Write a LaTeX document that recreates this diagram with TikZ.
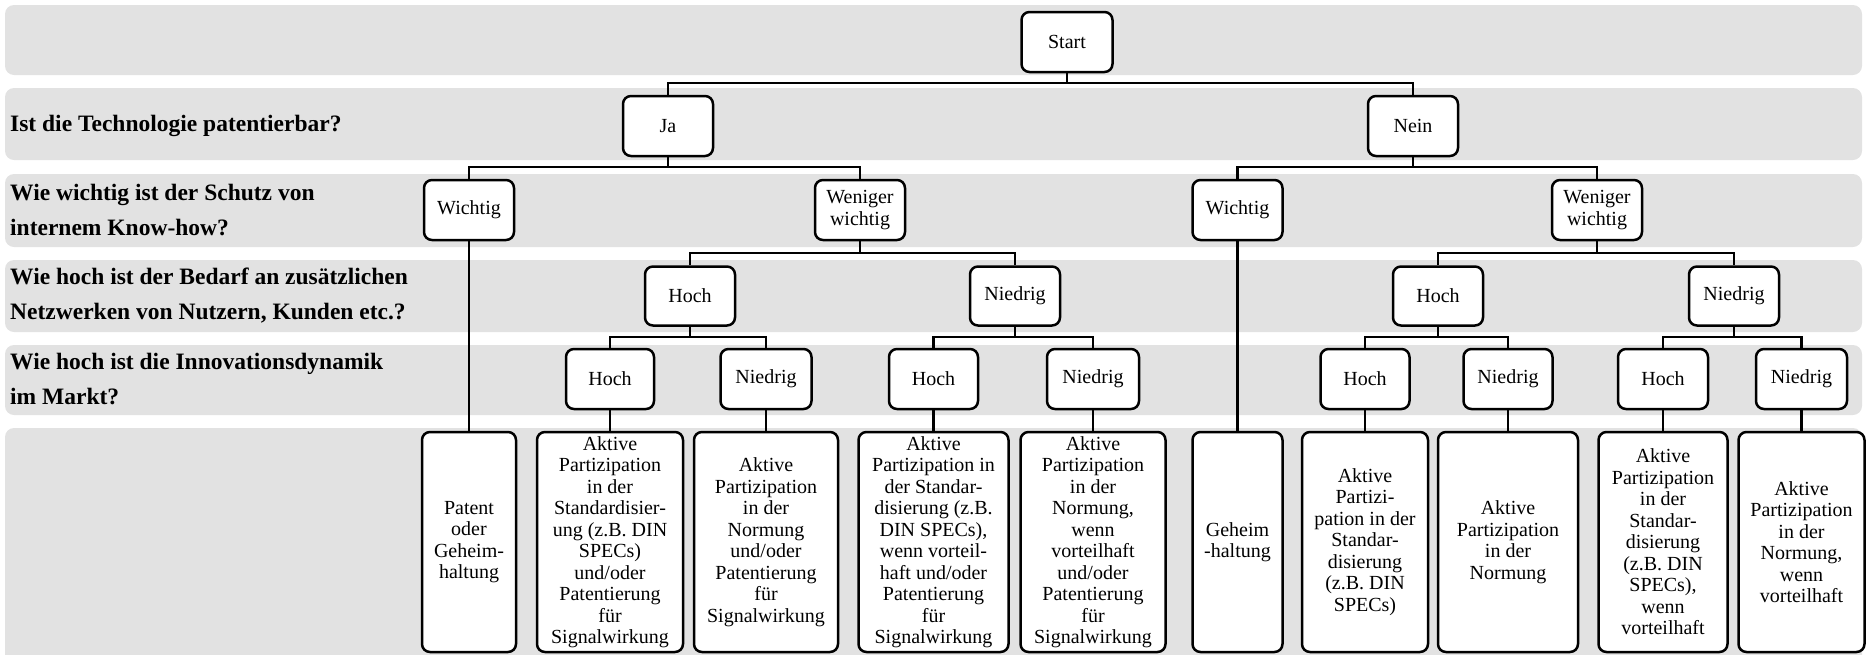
\documentclass[tikz,border=0pt]{standalone}
\usepackage{fontspec}
\setmainfont{Liberation Serif}
\definecolor{bandgray}{RGB}{226,226,226}
\begin{document}
\begin{tikzpicture}[x=1pt,y=-1pt,
  box/.style={draw,line width=2.5pt,rounded corners=8pt,fill=white,align=center,inner sep=0pt,
              font=\fontsize{20}{21.5}\selectfont},
  sbox/.style={box,minimum width=90pt,minimum height=60pt},
  conn/.style={line width=2.5pt},
  band/.style={fill=bandgray,rounded corners=9pt},
  qlabel/.style={anchor=west,align=left,inner sep=0pt,font=\fontsize{23.5}{35}\selectfont\bfseries}]
\useasboundingbox (0,0) rectangle (1866,654);
% background bands
\fill[band] (5,5) rectangle (1862,75);
\fill[band] (5,88) rectangle (1862,160);
\fill[band] (5,174) rectangle (1862,247);
\fill[band] (5,260) rectangle (1862,332);
\fill[band] (5,345) rectangle (1862,415);
\fill[band] (5,428) rectangle (1862,668);
% question labels
\node[qlabel] (q1) at (10,126) {Ist die Technologie patentierbar?};
\node[qlabel] (q2) at (10,210) {Wie wichtig ist der Schutz von\\internem Know-how?};
\node[qlabel] (q3) at (10,296) {Wie hoch ist der Bedarf an zusätzlichen\\Netzwerken von Nutzern, Kunden etc.?};
\node[qlabel] (q4) at (10,379) {Wie hoch ist die Innovationsdynamik\\im Markt?};
% tree nodes
\node[sbox,minimum width=91pt] (start) at (1067,42) {Start};
\node[sbox] (ja) at (668,126) {Ja};
\node[sbox] (nein) at (1413,126) {Nein};
\node[sbox] (w1) at (469,210) {Wichtig};
\node[sbox] (ww1) at (860,210) {Weniger\\wichtig};
\node[sbox] (w2) at (1237.5,210) {Wichtig};
\node[sbox] (ww2) at (1597,210) {Weniger\\wichtig};
\node[sbox,minimum height=59pt] (h1) at (690,296) {Hoch};
\node[sbox,minimum height=59pt] (n1) at (1015,296) {Niedrig};
\node[sbox,minimum height=59pt] (h2) at (1438,296) {Hoch};
\node[sbox,minimum height=59pt] (n2) at (1734,296) {Niedrig};
\node[sbox,minimum width=88pt] (r1) at (610,379) {Hoch};
\node[sbox,minimum width=91pt] (r2) at (766,379) {Niedrig};
\node[sbox,minimum width=89pt] (r3) at (933.5,379) {Hoch};
\node[sbox,minimum width=92pt] (r4) at (1093,379) {Niedrig};
\node[sbox,minimum width=89pt] (r5) at (1365,379) {Hoch};
\node[sbox,minimum width=89pt] (r6) at (1508,379) {Niedrig};
\node[sbox,minimum width=90pt] (r7) at (1663,379) {Hoch};
\node[sbox,minimum width=91pt] (r8) at (1801.5,379) {Niedrig};
% outcome boxes
\node[box,minimum width=94pt,minimum height=220pt] (b1) at (469,542) {Patent\\oder\\Geheim-\\haltung};
\node[box,minimum width=146pt,minimum height=220pt] (b2) at (610,542) {Aktive\\Partizipation\\in der\\Standardisier-\\ung (z.B. DIN\\SPECs)\\und/oder\\Patentierung\\für\\Signalwirkung};
\node[box,minimum width=144pt,minimum height=220pt] (b3) at (766,542) {Aktive\\Partizipation\\in der\\Normung\\und/oder\\Patentierung\\für\\Signalwirkung};
\node[box,minimum width=150pt,minimum height=220pt] (b4) at (933.5,542) {Aktive\\Partizipation in\\der Standar-\\disierung (z.B.\\DIN SPECs),\\wenn vorteil-\\haft und/oder\\Patentierung\\für\\Signalwirkung};
\node[box,minimum width=145pt,minimum height=220pt] (b5) at (1093,542) {Aktive\\Partizipation\\in der\\Normung,\\wenn\\vorteilhaft\\und/oder\\Patentierung\\für\\Signalwirkung};
\node[box,minimum width=90pt,minimum height=220pt] (b6) at (1237.5,542) {Geheim\\-haltung};
\node[box,minimum width=126pt,minimum height=220pt] (b7) at (1365,542) {Aktive\\Partizi-\\pation in der\\Standar-\\disierung\\(z.B. DIN\\SPECs)};
\node[box,minimum width=140pt,minimum height=220pt] (b8) at (1508,542) {Aktive\\Partizipation\\in der\\Normung};
\node[box,minimum width=129pt,minimum height=220pt] (b9) at (1663,542) {Aktive\\Partizipation\\in der\\Standar-\\disierung\\(z.B. DIN\\SPECs),\\wenn\\vorteilhaft};
\node[box,minimum width=126pt,minimum height=220pt] (b10) at (1801.5,542) {Aktive\\Partizipation\\in der\\Normung,\\wenn\\vorteilhaft};
% connectors
\begin{scope}[on background layer/.style={}]
\end{scope}
\draw[conn] (start.south) -- (start.south |- 0,83);
\draw[conn] (ja.north) |- (nein.north |- 0,83) -- (nein.north);
\draw[conn] (ja.south) -- (ja.south |- 0,167);
\draw[conn] (w1.north) |- (ww1.north |- 0,167) -- (ww1.north);
\draw[conn] (nein.south) -- (nein.south |- 0,167);
\draw[conn] (w2.north) |- (ww2.north |- 0,167) -- (ww2.north);
\draw[conn] (ww1.south) -- (ww1.south |- 0,253);
\draw[conn] (h1.north) |- (n1.north |- 0,253) -- (n1.north);
\draw[conn] (ww2.south) -- (ww2.south |- 0,253);
\draw[conn] (h2.north) |- (n2.north |- 0,253) -- (n2.north);
\draw[conn] (h1.south) -- (h1.south |- 0,337);
\draw[conn] (r1.north) |- (r2.north |- 0,337) -- (r2.north);
\draw[conn] (n1.south) -- (n1.south |- 0,337);
\draw[conn] (r3.north) |- (r4.north |- 0,337) -- (r4.north);
\draw[conn] (h2.south) -- (h2.south |- 0,337);
\draw[conn] (r5.north) |- (r6.north |- 0,337) -- (r6.north);
\draw[conn] (n2.south) -- (n2.south |- 0,337);
\draw[conn] (r7.north) |- (r8.north |- 0,337) -- (r8.north);
\draw[conn] (w1.south) -- (w1.south |- b1.north);
\draw[conn] (r1.south) -- (r1.south |- b2.north);
\draw[conn] (r2.south) -- (r2.south |- b3.north);
\draw[conn] (r3.south) -- (r3.south |- b4.north);
\draw[conn] (r4.south) -- (r4.south |- b5.north);
\draw[conn] (w2.south) -- (w2.south |- b6.north);
\draw[conn] (r5.south) -- (r5.south |- b7.north);
\draw[conn] (r6.south) -- (r6.south |- b8.north);
\draw[conn] (r7.south) -- (r7.south |- b9.north);
\draw[conn] (r8.south) -- (r8.south |- b10.north);
\end{tikzpicture}
\end{document}
